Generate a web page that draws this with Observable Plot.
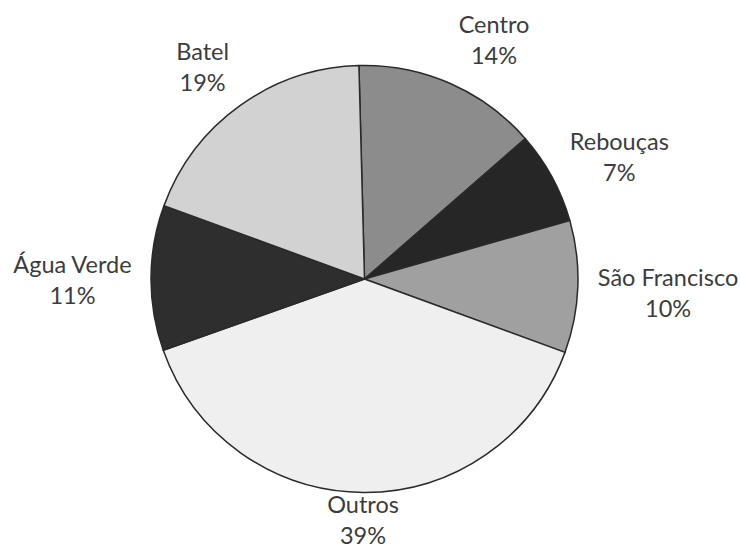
<!DOCTYPE html>
<html><head><meta charset="utf-8">
<script src="https://cdn.jsdelivr.net/npm/d3@7"></script>
<script src="https://cdn.jsdelivr.net/npm/@observablehq/plot@0.6"></script>
<style>body{margin:0;background:#fff}</style>
</head><body><div id="chart"></div>
<script>
const categories = ["Centro", "Rebouças", "São Francisco", "Outros", "Água Verde", "Batel"];
const shares = [14, 7, 10, 39, 11, 19];
const percentLabels = ["14%", "7%", "10%", "39%", "11%", "19%"];
const fills = ["#8c8c8c", "#262626", "#a0a0a0", "#efefef", "#2e2e2e", "#d2d2d2"];

const W = 740, H = 550, cx = 364.5, cy = 279, R = 213.5;
const FONT = "Lato", FS = 23.5, LHpx = 31;
const start = -1.5 * Math.PI / 180;

const data = categories.map((c, i) => ({category: c, value: shares[i], label: percentLabels[i], fill: fills[i]}));
const arcs = d3.pie().sort(null).value(d => d.value).startAngle(start).endAngle(start + 2 * Math.PI)(data);

// label placement: box corner/edge touching a ring just outside the pie, kept inside the frame
const ctx = document.createElement("canvas").getContext("2d");
ctx.font = `${FS}px ${FONT}`;
const D = 233, hh = 26, kx = 4, ky = 1;
const clamp = v => Math.max(-1, Math.min(1, v));
const labels = arcs.map(a => {
  const m = (a.startAngle + a.endAngle) / 2;
  const ux = Math.sin(m), uy = Math.cos(m); // y up
  const hw = Math.max(ctx.measureText(a.data.category).width, ctx.measureText(a.data.label).width) / 2;
  let px = D * ux + hw * clamp(kx * ux);
  let py = D * uy + hh * clamp(ky * uy) + (uy > 0.6 ? 4 : 0) - (Math.abs(uy) < 0.2 && ux > 0 ? 3 : 0);
  // keep the whole text block inside the frame (pixel offsets from pie centre, y up)
  const below = cy - H + 32; // lowest allowed centre of the two-line block
  if (py < below) py = below;
  return {text: a.data.category + "\n" + a.data.label, x: px / R, y: py / R};
});

function slices(index, scales) {
  const x0 = scales.x(0), y0 = scales.y(0), r = scales.x(1) - scales.x(0);
  const arc = d3.arc().innerRadius(0).outerRadius(r);
  const g = d3.create("svg:g").attr("transform", `translate(${x0},${y0})`);
  g.selectAll("path").data(arcs).join("path")
    .attr("d", arc)
    .attr("fill", d => d.data.fill)
    .attr("stroke", "#2a2a2a")
    .attr("stroke-width", 1.5)
    .attr("stroke-linejoin", "round");
  return g.node();
}

const chart = Plot.plot({
  width: W, height: H,
  margin: 0,
  x: {domain: [-cx / R, (W - cx) / R], axis: null},
  y: {domain: [-(H - cy) / R, cy / R], axis: null},
  marks: [
    slices,
    Plot.text(labels, {x: "x", y: "y", text: "text", fontSize: FS, fontFamily: FONT, lineHeight: LHpx / FS, fill: "#3c3c3c"})
  ]
});
document.getElementById("chart").appendChild(chart);
</script>
</body></html>
